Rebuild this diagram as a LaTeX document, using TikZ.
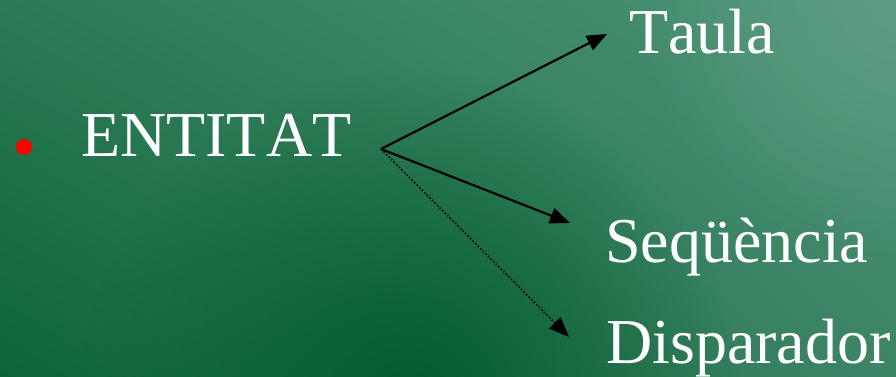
\documentclass[tikz,border=0pt]{standalone}
\usepackage{fontspec}
\setmainfont[Kerning=Off]{Liberation Serif}
\usetikzlibrary{arrows.meta,shadings,fadings}
\definecolor{bgUL}{HTML}{2B7A56}
\definecolor{bgUR}{HTML}{4E9475}
\definecolor{bgLL}{HTML}{0C6438}
\definecolor{bgLR}{HTML}{3D8465}
\definecolor{bgDark}{HTML}{035C2F}
\definecolor{bgLight}{HTML}{5E9E82}
\tikzfading[name=radfade, inner color=transparent!0, outer color=transparent!100]
\begin{document}
\begin{tikzpicture}[x=1pt,y=-1pt,
  lbl/.style={anchor=base west,inner sep=0pt,text=white,font=\fontsize{64}{64}\selectfont},
  conn/.style={draw=black,line width=2.2pt,-{Triangle[length=20pt,width=16pt]}},
  dotconn/.style={draw=black,line width=1.6pt,dotted,-{Triangle[length=20pt,width=16pt]}}]
\useasboundingbox (0,0) rectangle (896,377);
\begin{scope}
\clip (0,0) rectangle (896,377);
\shade[upper left=bgUL,upper right=bgUR,lower left=bgLL,lower right=bgLR] (0,0) rectangle (896,377);
\fill[bgDark,path fading=radfade] (410,400) circle[radius=330];
\fill[bgLight,path fading=radfade] (896,0) circle[radius=260];
\end{scope}
\fill[red] (24,147) circle[radius=8];
\node[lbl] (ent) at (81,157) {ENTITAT};
\node[lbl] (taula) at (629,54) {Taula};
\node[lbl] (seq) at (605,262) {Seqüència};
\node[lbl] (disp) at (606,363) {Disparador};
\coordinate (o) at (381,149);
\coordinate (tT) at (607,34);
\coordinate (tS) at (570,223);
\coordinate (tD) at (569,337);
\draw[conn] (o) -- (tT);
\draw[conn] (o) -- (tS);
\draw[dotconn] (o) -- (tD);
\end{tikzpicture}
\end{document}
